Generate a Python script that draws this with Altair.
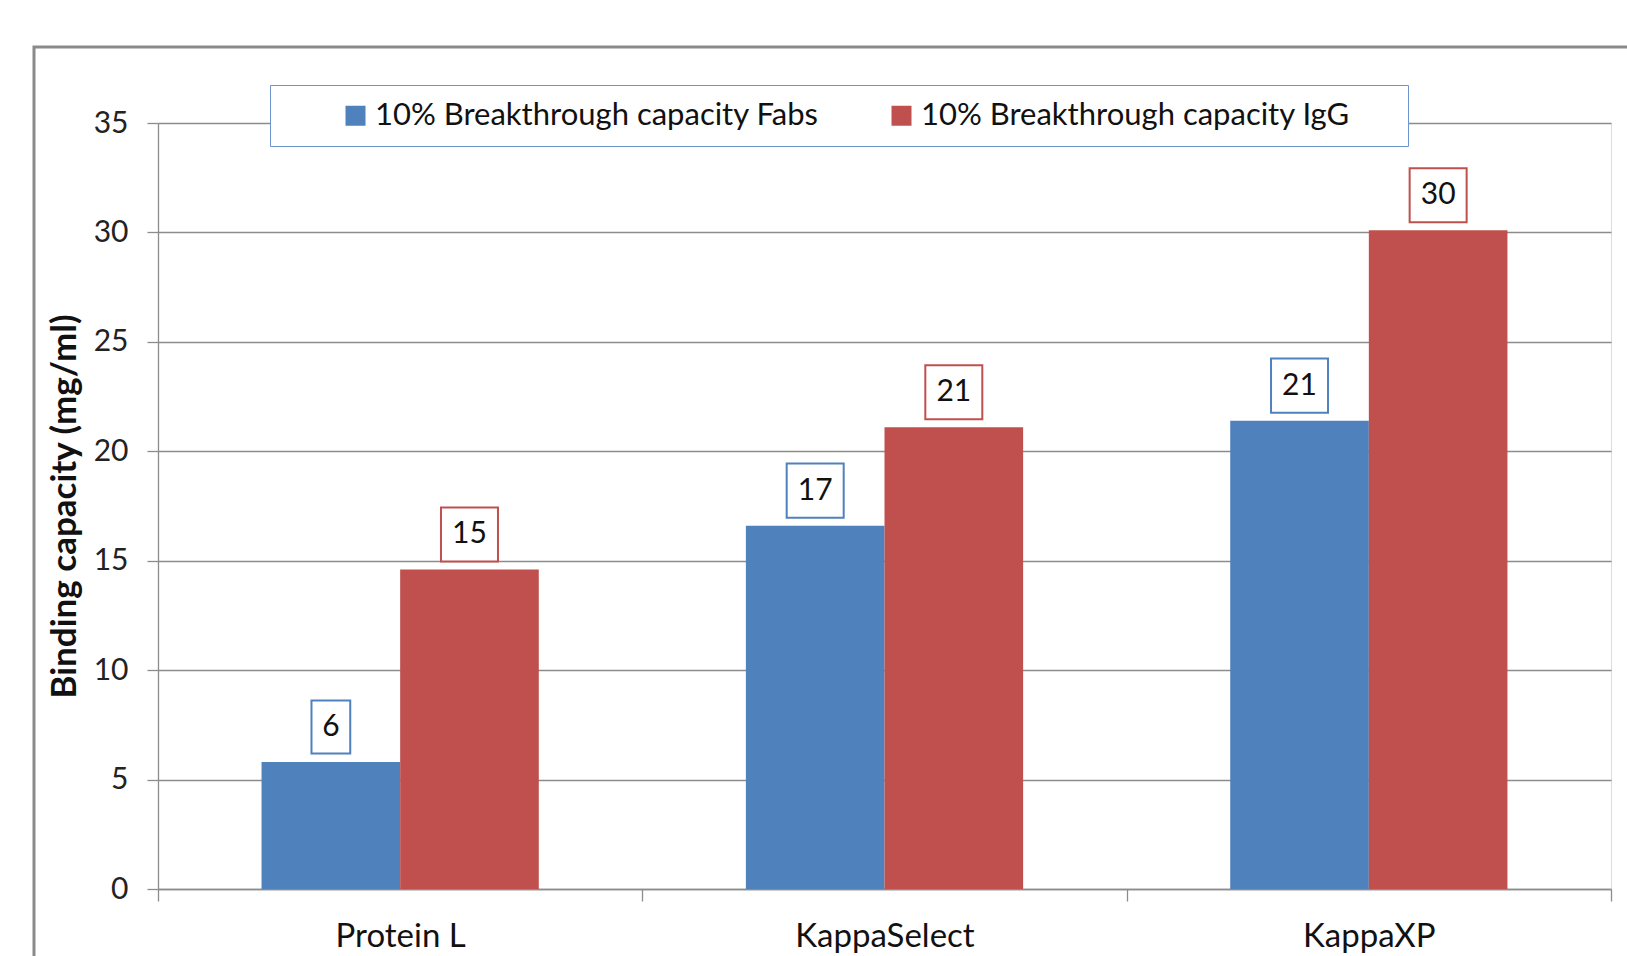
import altair as alt
import pandas as pd

categories = ["Protein L", "KappaSelect", "KappaXP"]
series = ["10% Breakthrough capacity Fabs", "10% Breakthrough capacity IgG"]
fabs = [5.8, 16.6, 21.4]
igg = [14.6, 21.1, 30.1]
fabs_labels = ["6", "17", "21"]
igg_labels = ["15", "21", "30"]
y_ticks = [0, 5, 10, 15, 20, 25, 30, 35]
colors = ["#4F81BD", "#C0504D"]

FONT = "Lato"
GRID = "#8C8C8C"
BOX_WIDE = "M-1,-0.95L1,-0.95L1,0.95L-1,0.95Z"
BOX_NARROW = "M-0.68,-0.93L0.68,-0.93L0.68,0.93L-0.68,0.93Z"

rows = []
for i, c in enumerate(categories):
    rows.append(dict(category=c, series=series[0], value=fabs[i], label=fabs_labels[i]))
    rows.append(dict(category=c, series=series[1], value=igg[i], label=igg_labels[i]))
df = pd.DataFrame(rows)
df["box"] = df["label"].map(lambda s: BOX_WIDE if len(s) > 1 else BOX_NARROW)

x_enc = alt.X(
    "category:N",
    sort=categories,
    scale=alt.Scale(paddingInner=0, paddingOuter=0),
    axis=alt.Axis(
        title=None, labelAngle=0, labelFontSize=33, labelFont=FONT, labelColor="#111",
        tickBand="extent", tickSize=12, tickColor=GRID, domainColor=GRID,
        tickWidth=1.3, domainWidth=1.3, labelPadding=19,
    ),
)
xo_scale = alt.Scale(paddingInner=0, paddingOuter=0.747)
xo_enc = alt.XOffset("series:N", sort=series, scale=xo_scale)
y_enc = alt.Y(
    "value:Q",
    scale=alt.Scale(domain=[0, 35], nice=False),
    axis=alt.Axis(
        values=y_ticks, title="Binding capacity (mg/ml)", titleFontSize=35, titleFont=FONT,
        titleFontWeight="bold", titleColor="#111", titlePadding=11,
        labelFontSize=30, labelFont=FONT, labelColor="#222", labelPadding=19,
        tickSize=11, tickColor=GRID, domainColor=GRID, gridColor=GRID,
        tickWidth=1.3, domainWidth=1.3, gridWidth=1.3, grid=True,
    ),
)

frame = alt.Chart(pd.DataFrame({"a": [0]})).mark_rect(
    fill=None, stroke="#8A8A8A", strokeWidth=3
).encode(
    x=alt.value(34 - 158), y=alt.value(47 - 123),
    x2=alt.value(1700), y2=alt.value(1000),
)

bars = alt.Chart(df).mark_bar().encode(
    x=x_enc, xOffset=xo_enc, y=y_enc,
    color=alt.Color(
        "series:N",
        scale=alt.Scale(domain=series, range=colors),
        legend=alt.Legend(
            title="\u00a0", titleOrient="right", titlePadding=43, titleFontSize=10,
            orient="none", legendX=112, legendY=-38, direction="horizontal",
            symbolType="square", symbolSize=400, symbolStrokeWidth=0, symbolOpacity=1,
            labelFontSize=31, labelFont=FONT, labelColor="#111", labelLimit=800,
            labelOffset=4, strokeColor="#6E95CC", fillColor="white", padding=15,
            columnPadding=12, symbolOffset=55, cornerRadius=0,
        ),
    ),
)

boxes = alt.Chart(df).mark_point(
    filled=False, fill="white", fillOpacity=1, strokeWidth=2, yOffset=-35, size=57 * 57, opacity=1
).encode(
    x=alt.X("category:N", sort=categories),
    xOffset=alt.XOffset("series:N", sort=series, scale=xo_scale),
    y="value:Q",
    shape=alt.Shape("box:N", scale=None),
    stroke=alt.Stroke("series:N", scale=alt.Scale(domain=series, range=colors), legend=None),
)

texts = alt.Chart(df).mark_text(
    dy=-35, fontSize=30, font=FONT, color="#111", baseline="middle", align="center"
).encode(
    x=alt.X("category:N", sort=categories),
    xOffset=alt.XOffset("series:N", sort=series, scale=xo_scale),
    y="value:Q",
    text="label:N",
)

chart = alt.layer(frame, bars, boxes, texts).properties(
    width=1453, height=766,
    autosize=alt.AutoSizeParams(type="none"),
    padding={"left": 158, "top": 123, "right": 16, "bottom": 67},
).configure_view(stroke=None).configure(background="white")

chart.save("out.html", embed_options={"renderer": "svg", "actions": False})
